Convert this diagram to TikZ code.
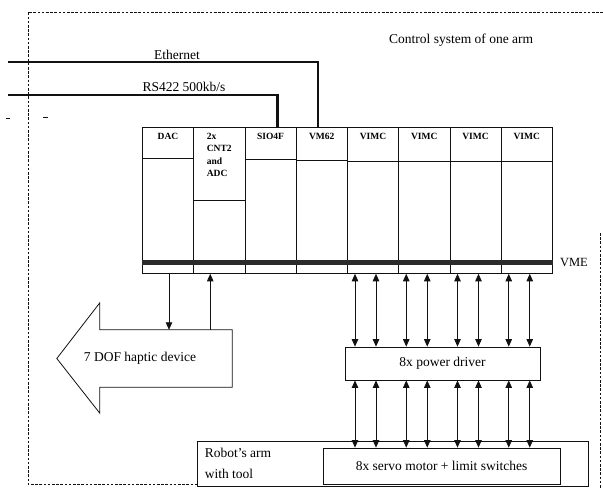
\documentclass[tikz,border=0pt]{standalone}
\usepackage{fontspec}
\setmainfont{Liberation Serif}
\usetikzlibrary{arrows.meta,positioning,calc}
\definecolor{ink}{HTML}{111111}
\definecolor{busgray}{HTML}{2b2b2b}
\tikzset{
  frame/.style={draw=ink,line width=.7pt,dash pattern=on 2.6pt off 1.6pt},
  mod/.style={draw=ink,line width=.8pt,minimum width=51.25pt,minimum height=146pt,
              anchor=north west,inner sep=0pt},
  head/.style={draw=ink,line width=.8pt,minimum width=51.25pt,anchor=north,inner sep=0pt},
  modlbl/.style={anchor=north,inner sep=0pt,align=left,
              font=\fontsize{9.5}{12.5}\selectfont\bfseries},
  box/.style={draw=ink,line width=.8pt,fill=white,inner sep=0pt,
              font=\fontsize{13.5}{15}\selectfont},
  lbl/.style={inner sep=0pt,font=\fontsize{13.5}{15.5}\selectfont},
  netline/.style={ink,line width=2.2pt},
  vmebus/.style={busgray,line width=5pt},
  sig/.style={ink,line width=.8pt,-{Triangle[length=7.5pt,width=6.5pt]}},
  bisig/.style={ink,line width=.8pt,{Triangle[length=7.5pt,width=6.5pt]}-{Triangle[length=7.5pt,width=6.5pt]}},
}

\begin{document}
\begin{tikzpicture}[x=1pt,y=-1pt]
  \useasboundingbox (0,0) rectangle (603,488);
  \draw[frame] (603,12) -- (28,12) -- (28,484) -- (200,484);
  \draw[frame] (600,233) -- (600,488);
  \draw[ink,line width=.7pt] (6,118) -- (10,118) (43,117) -- (48,117);
  \node[lbl,anchor=west] (title) at (389,40) {Control system of one arm};

  \foreach \i/\nm/\hh/\txt in {0/dac/31/DAC,1/cnt/73/{2x\\CNT2\\and\\ADC},2/sio/32/SIO4F,
      3/vm/33/VM62,4/vimcA/34/VIMC,5/vimcB/34/VIMC,6/vimcC/34/VIMC,7/vimcD/34/VIMC}{
    \node[mod] (\nm) at (142+51.25*\i,127) {};
    \node[head,minimum height=\hh pt] (\nm-h) at (\nm.north) {};
    \node[modlbl] (\nm-l) at ([yshift=-6pt]\nm-h.north) {\txt};
  }
  \draw[vmebus] ([yshift=11pt]dac.south west) -- ([yshift=11pt]vimcD.south east);
  \node[lbl,anchor=west,font=\fontsize{12.5}{14}\selectfont] (vme)
    at ([xshift=7pt,yshift=11pt]vimcD.south east) {VME};

  \coordinate (ethIn) at (8,62);
  \coordinate (rsIn) at (8,95);
  \draw[netline] (ethIn) -| ([xshift=22pt]vm.north west);
  \draw[netline] (rsIn) -| ([xshift=33pt]sio.north west);
  \node[lbl,anchor=base] (ethLbl) at (177,59) {Ethernet};
  \node[lbl,anchor=base] (rsLbl) at (184,91) {RS422 500kb/s};

  \node[minimum width=132pt,minimum height=57pt,inner sep=0pt] (haptic) at (166,358.5) {};
  \draw[ink,line width=.8pt,fill=white] (haptic.north east) -- (haptic.north west) -- ++(0,-27)
    -- ([xshift=-43pt]haptic.west) -- ([yshift=-26pt]haptic.south west)
    -- (haptic.south west) -- (haptic.south east) -- cycle;
  \node[lbl] (hapticLbl) at (140,358) {7 DOF haptic device};
  \draw[sig] ([xshift=27pt]dac.south west) -- ([xshift=27pt]dac.south west |- haptic.north);
  \draw[sig] ([xshift=17pt]cnt.south west |- haptic.north) -- ([xshift=17pt]cnt.south west);

  \node[box,minimum width=195pt,minimum height=33pt] (pd) at (442.5,363.5) {8x power driver};
  \node[box,minimum width=391pt,minimum height=45pt] (robot) at (392.5,463.5) {};
  \node[lbl,anchor=north west,align=left,font=\fontsize{13.5}{21}\selectfont] (robotLbl)
    at ([xshift=8pt,yshift=-7pt]robot.north west) {Robot's arm\\with tool};
  \node[box,minimum width=237pt,minimum height=36pt] (servo) at (441.5,466)
    {8x servo motor + limit switches};

  \foreach \m in {A,B,C,D}{
    \foreach \dx in {8,29}{
      \draw[bisig] ([xshift=\dx pt]vimc\m.south west) -- ([xshift=\dx pt]vimc\m.south west |- pd.north);
      \draw[bisig] ([xshift=\dx pt]vimc\m.south west |- pd.south) -- ([xshift=\dx pt]vimc\m.south west |- servo.north);
    }
  }
\end{tikzpicture}
\end{document}
